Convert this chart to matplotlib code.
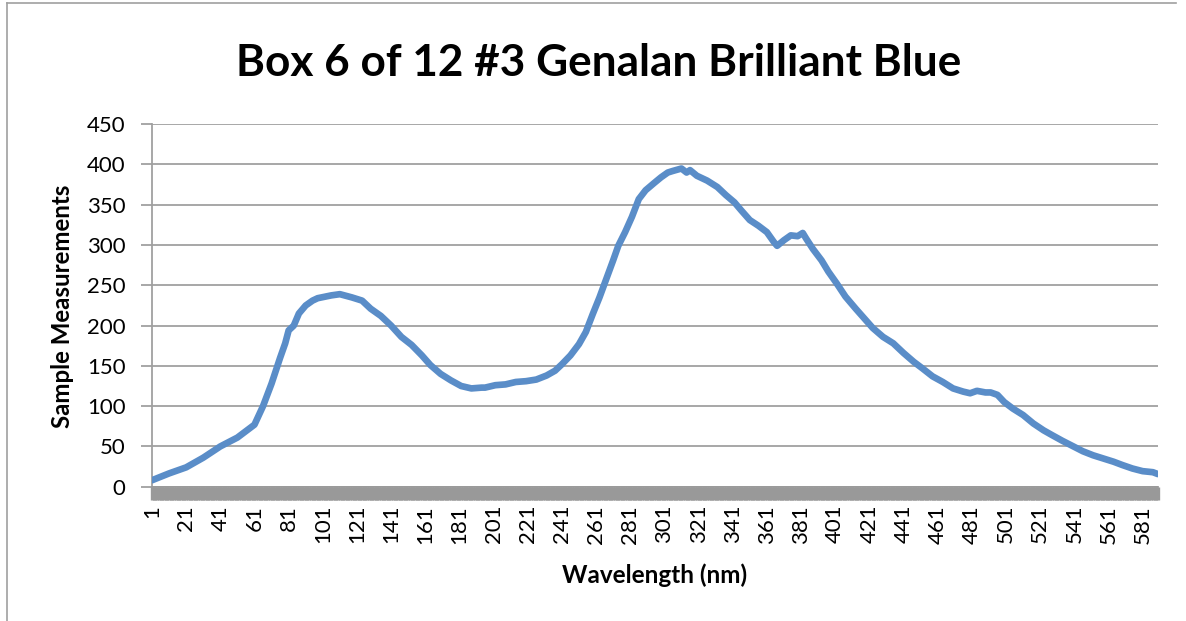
import matplotlib
matplotlib.use("Agg")
import matplotlib.pyplot as plt
from matplotlib.lines import Line2D
import numpy as np

# ---- data ----
wavelength_index = [1, 11, 21, 31, 41, 51, 61, 66, 71, 76, 79, 81, 84, 87, 91, 95, 98,
                    106, 111, 118, 124, 129, 135, 141, 147, 153, 159, 164, 170, 176, 182,
                    188, 194, 196, 202, 208, 214, 220, 226, 232, 237, 241, 246, 251, 255,
                    259, 263, 267, 271, 274, 278, 282, 286, 290, 295, 299, 303, 306, 311,
                    314, 316, 320, 326, 332, 337, 342, 346, 351, 356, 361, 365, 367, 371,
                    375, 379, 382, 384, 388, 393, 397, 402, 407, 413, 418, 423, 429, 435,
                    441, 447, 452, 458, 464, 470, 476, 480, 484, 489, 492, 496, 500, 505,
                    511, 517, 523, 528, 534, 540, 546, 552, 558, 564, 569, 575, 581, 587, 590]
sample_measurements = [8, 16.5, 24, 36, 50, 61, 77, 100, 128, 160, 178, 194, 200, 215, 225, 231, 234,
                       237.5, 239, 235, 231, 221, 212, 200, 186, 176, 163, 151, 140, 132, 125,
                       122, 123, 123, 126, 127, 130, 131, 133, 138, 144, 152, 163, 177, 192,
                       214, 235, 258, 281, 299, 316, 335, 357, 368, 377, 384, 390, 392, 395,
                       390, 393, 386, 380, 372, 362, 353, 343, 331, 324, 316, 304, 299, 306,
                       312, 311, 315, 308, 295, 281, 267, 252, 236, 221, 209, 197, 186, 178,
                       166, 155, 147, 137, 130, 122, 118, 116, 119, 117, 117, 114, 105, 97,
                       89, 78.5, 70, 64, 57, 50.5, 44, 39, 35, 31, 27, 22.6, 19.3, 18, 15.6]
n_categories = 590
xtick_labels = [str(v) for v in range(1, 582, 20)]
y_ticks = [0, 50, 100, 150, 200, 250, 300, 350, 400, 450]

title = "Box 6 of 12 #3 Genalan Brilliant Blue"
x_label = "Wavelength (nm)"
y_label = "Sample Measurements"

# ---- style ----
plt.rcParams['font.family'] = ['Lato', 'DejaVu Sans']
W, H = 1186, 621
fig = plt.figure(figsize=(W / 100, H / 100), dpi=100)
fig.patch.set_facecolor('white')

left, right, bottom, top = 152, 1158, 486.7, 124.2
ax = fig.add_axes([left / W, 1 - bottom / H, (right - left) / W, (bottom - top) / H])

grid_c = '#A0A0A0'
line_c = '#5A8DC8'

ax.plot(wavelength_index, sample_measurements, color=line_c, lw=4.8,
        solid_capstyle='round', solid_joinstyle='round', zorder=3)

ax.set_xlim(1, n_categories)
ax.set_ylim(0, 450)
ax.set_yticks(y_ticks)
ax.set_yticklabels([str(v) for v in y_ticks], fontsize=16)
ax.yaxis.grid(True, color=grid_c, lw=1.3)
ax.set_axisbelow(True)

major_pos = [int(s) for s in xtick_labels]
ax.set_xticks(major_pos)
ax.set_xticklabels(xtick_labels, rotation=90, fontsize=16)
ax.set_xticks(np.arange(1, n_categories + 1), minor=True)
ax.tick_params(axis='x', which='both', length=9, width=2.4, color='#999999', pad=4)
ax.tick_params(axis='y', which='major', length=8, width=1.3, color=grid_c, pad=11)

for s in ['top', 'right']:
    ax.spines[s].set_visible(False)
ax.spines['left'].set_color(grid_c)
ax.spines['left'].set_linewidth(1.3)
ax.spines['bottom'].set_color('#999999')
ax.spines['bottom'].set_linewidth(1.3)

fig.text(599 / W, 1 - 63 / H, title, ha='center', va='center', fontsize=31.8, fontweight='bold')
fig.text(655 / W, 1 - 575 / H, x_label, ha='center', va='center', fontsize=17.5, fontweight='bold')
fig.text(63 / W, 1 - 306 / H, y_label, ha='center', va='center', rotation=90, fontsize=17.3, fontweight='bold')

# chart frame (partially visible in the reference)
fig.add_artist(Line2D([7 / W, 7 / W], [0, 1 - 3 / H], color='#A0A0A0', lw=1.2))
fig.add_artist(Line2D([7 / W, 1176 / W], [1 - 3 / H, 1 - 3 / H], color='#A0A0A0', lw=1.2))

fig.savefig('out.png', dpi=100, facecolor='white')
